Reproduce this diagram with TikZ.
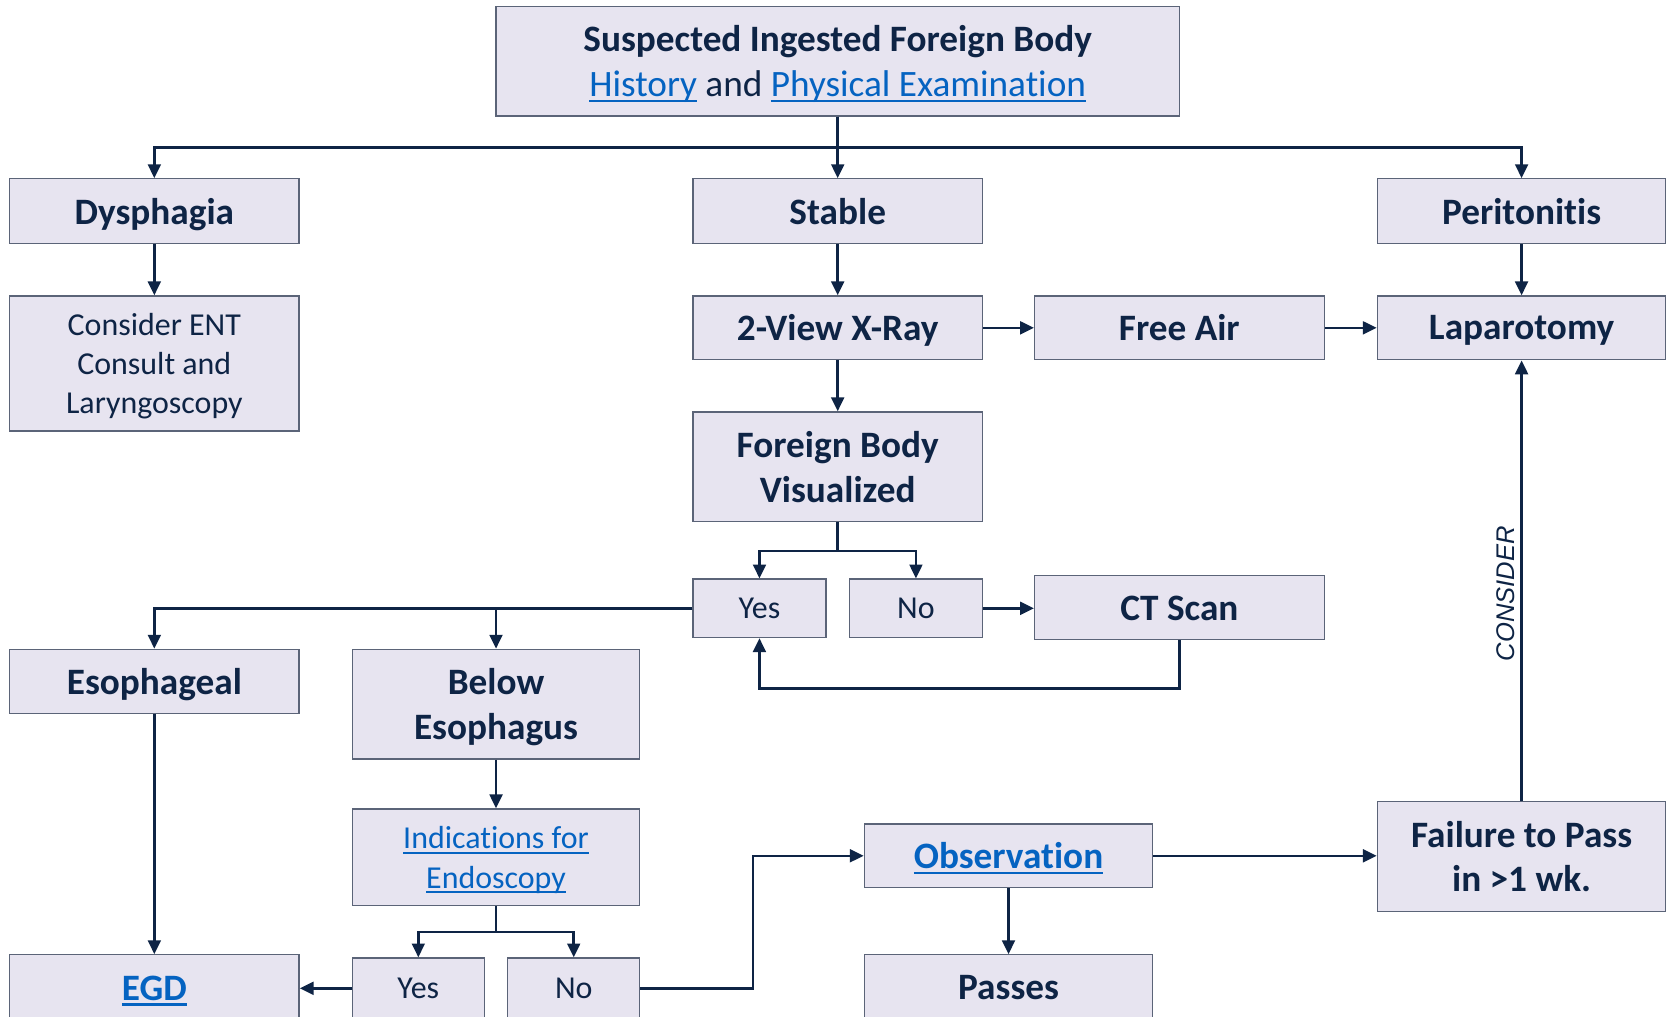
\documentclass[tikz,border=0pt]{standalone}
\usepackage{fontspec}
\setmainfont{Carlito}[Ligatures={NoCommon}]
\newfontfamily\consfont{Liberation Sans}
\usetikzlibrary{arrows.meta}
\definecolor{boxfill}{HTML}{E7E4F0}
\definecolor{boxline}{HTML}{5B6478}
\definecolor{navy}{HTML}{0E2445}
\definecolor{linkblue}{HTML}{0563C1}
\newsavebox\lnkbox
\newcommand\lnk[1]{{\color{linkblue}\sbox\lnkbox{#1}\rlap{\rule[-0.15em]{\wd\lnkbox}{0.065em}}\usebox\lnkbox}}
\tikzset{
  box/.style={draw=boxline, fill=boxfill, line width=1.2pt, text=navy, align=center, inner sep=0pt, text depth=0pt},
  bld/.style={box, font=\bfseries\fontsize{35}{42}\selectfont},
  reg/.style={box, font=\fontsize{30}{37}\selectfont},
  conn/.style={draw=navy, line width=2.4pt},
  arr/.style={conn, -{Triangle[length=13pt,width=12pt]}},
}
\begin{document}
\begin{tikzpicture}[x=1pt,y=-1pt]
\useasboundingbox (0,0) rectangle (1568,955);
\fill[white] (0,0) rectangle (1568,955);
\clip (0,0) rectangle (1568,955);
% nodes
\node[bld, minimum width=642, minimum height=103] (top) at (787,57.5)
  {Suspected Ingested Foreign Body\\{\mdseries\fontsize{35}{42}\selectfont\lnk{History} and \lnk{Physical Examination}}};
\node[bld, minimum width=272, minimum height=61] (dys) at (145,198.5) {Dysphagia};
\node[bld, minimum width=272, minimum height=61] (stable) at (787,198.5) {Stable};
\node[bld, minimum width=271, minimum height=61] (perit) at (1429.5,198.5) {Peritonitis};
\node[reg, minimum width=272, minimum height=127] (ent) at (145,341.5) {Consider ENT\\Consult and\\Laryngoscopy};
\node[bld, minimum width=272, minimum height=60] (xray) at (787,308) {2-View X-Ray};
\node[bld, minimum width=272, minimum height=60] (free) at (1108,308) {Free Air};
\node[bld, minimum width=271, minimum height=60] (lap) at (1429.5,308) {Laparotomy};
\node[bld, minimum width=272, minimum height=103] (fbv) at (787,438.5) {Foreign Body\\Visualized};
\node[reg, minimum width=125, minimum height=55] (yes1) at (713.5,571.5) {Yes};
\node[reg, minimum width=125, minimum height=55] (no1) at (860.5,571.5) {No};
\node[bld, minimum width=272, minimum height=60] (ct) at (1108,571) {CT Scan};
\node[bld, minimum width=272, minimum height=60] (eso) at (145,640) {Esophageal};
\node[bld, minimum width=270, minimum height=103] (below) at (466,661.5) {Below\\Esophagus};
\node[reg, minimum width=270, minimum height=91] (ind) at (466,805.5) {\lnk{Indications for}\\\lnk{Endoscopy}};
\node[bld, minimum width=272, minimum height=62] (egd) at (145,928) {\lnk{EGD}};
\node[reg, minimum width=124, minimum height=57] (yes2) at (393,928.5) {Yes};
\node[reg, minimum width=124, minimum height=57] (no2) at (539,928.5) {No};
\node[bld, minimum width=271, minimum height=60] (obs) at (947.5,804) {\lnk{Observation}};
\node[bld, minimum width=271, minimum height=62] (passes) at (947.5,928) {Passes};
\node[bld, minimum width=271, minimum height=103] (fail) at (1429.5,804.5) {Failure to Pass\\in >1 wk.};
% connectors
\draw[arr] (top.south) -- ++(0,29) -| (dys.north);
\draw[arr] (top.south) -- ++(0,29) -| (perit.north);
\draw[arr] (top.south) -- (stable.north);
\draw[arr] (dys.south) -- (ent.north);
\draw[arr] (stable.south) -- (xray.north);
\draw[arr] (perit.south) -- (lap.north);
\draw[arr] (xray.east) -- (free.west);
\draw[arr] (free.east) -- (lap.west);
\draw[arr] (xray.south) -- (fbv.north);
\draw[arr] (fbv.south) -- ++(0,27) -| (yes1.north);
\draw[arr] (fbv.south) -- ++(0,27) -| (no1.north);
\draw[arr] (no1.east) -- (no1.east -| ct.west);
\draw[arr] (ct.south) -- ++(0,45) -| (yes1.south);
\draw[arr] (yes1.west) -| (eso.north);
\draw[arr] (yes1.west) -| (below.north);
\draw[arr] (eso.south) -- (egd.north);
\draw[arr] (below.south) -- (ind.north);
\draw[arr] (ind.south) -- ++(0,24) -| (yes2.north);
\draw[arr] (ind.south) -- ++(0,24) -| (no2.north);
\draw[arr] (yes2.west) -- (yes2.west -| egd.east);
\draw[arr] (no2.east) -- ++(106,0) |- (obs.west);
\draw[arr] (obs.east) -- (obs.east -| fail.west);
\draw[arr] (obs.south) -- (passes.north);
\draw[arr] (fail.north) -- node[pos=0.47, above, sloped, text=navy, inner sep=5pt,
  font=\consfont\itshape\fontsize{24}{28}\selectfont] {CONSIDER} (lap.south);
\end{tikzpicture}
\end{document}
